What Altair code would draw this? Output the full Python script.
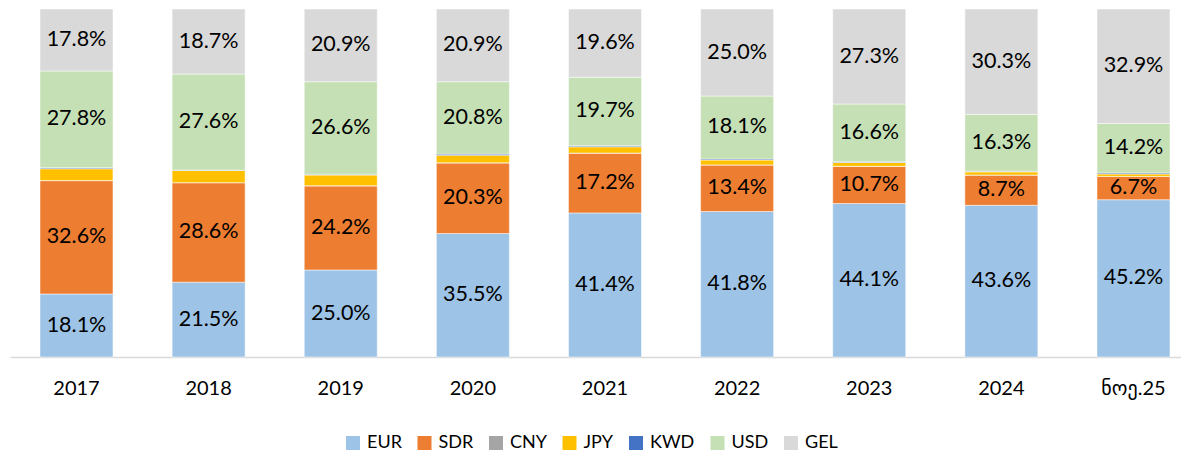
import altair as alt
import pandas as pd

categories = ["2017", "2018", "2019", "2020", "2021", "2022", "2023", "2024", "ნოე.25"]
series = ["EUR", "SDR", "CNY", "JPY", "KWD", "USD", "GEL"]
colors = ["#9DC3E6", "#ED7D31", "#A5A5A5", "#FFC000", "#4472C4", "#C5E0B4", "#D9D9D9"]

EUR = [18.1, 21.5, 25.0, 35.5, 41.4, 41.8, 44.1, 43.6, 45.2]
SDR = [32.6, 28.6, 24.2, 20.3, 17.2, 13.4, 10.7, 8.7, 6.7]
CNY = [0.0, 0.0, 0.0, 0.0, 0.0, 0.0, 0.0, 0.0, 0.0]
JPY = [3.4, 3.5, 3.1, 2.2, 1.8, 1.4, 1.1, 0.9, 0.7]
KWD = [0.3, 0.1, 0.2, 0.3, 0.3, 0.3, 0.2, 0.2, 0.3]
USD = [27.8, 27.6, 26.6, 20.8, 19.7, 18.1, 16.6, 16.3, 14.2]
GEL = [17.8, 18.7, 20.9, 20.9, 19.6, 25.0, 27.3, 30.3, 32.9]
labelled = ["EUR", "SDR", "USD", "GEL"]

values = {"EUR": EUR, "SDR": SDR, "CNY": CNY, "JPY": JPY, "KWD": KWD, "USD": USD, "GEL": GEL}
rows = []
for si, s in enumerate(series):
    for ci, c in enumerate(categories):
        rows.append({"cat": c, "series": s, "ord": si, "value": values[s][ci],
                     "show": s in labelled})
df = pd.DataFrame(rows)

FONT = "Lato, DejaVu Sans, sans-serif"

base = alt.Chart(df).transform_stack(
    stack="value", groupby=["cat"], sort=[alt.SortField("ord", order="ascending")], as_=["y0", "y1"]
).transform_calculate(
    mid="(datum.y0 + datum.y1) / 2",
    label="format(datum.value, '.1f') + '%'"
)

xscale = alt.Scale(paddingInner=0.4475, paddingOuter=0.1552, align=0.7315, round=False)
xenc = alt.X("cat:N", sort=categories, title=None, scale=xscale,
             axis=alt.Axis(labelAngle=0, ticks=False, domainColor="#D9D9D9", domainWidth=1.5,
                           labelFont=FONT, labelFontSize=20, labelColor="#000000",
                           labelPadding=21, grid=False))
yscale = alt.Scale(domain=[0, 100], nice=False, zero=True)

bars = base.mark_bar(stroke="white", strokeWidth=0.5).encode(
    x=xenc,
    y=alt.Y("y0:Q", scale=yscale, axis=None),
    y2="y1:Q",
    color=alt.Color("series:N", scale=alt.Scale(domain=series, range=colors),
                    legend=alt.Legend(title=None, orient="none", direction="horizontal",
                                      legendX=334, legendY=425, symbolType="square",
                                      symbolSize=196, symbolStrokeWidth=0, symbolOpacity=1,
                                      labelFont=FONT, labelFontSize=18, labelColor="#000000",
                                      labelOffset=5, columnPadding=13.5, padding=0)),
)

texts = base.transform_filter("datum.show").mark_text(
    font=FONT, fontSize=21.5, color="#000000", baseline="middle", align="center"
).encode(
    x=alt.X("cat:N", sort=categories, scale=xscale),
    y=alt.Y("mid:Q", scale=yscale),
    text="label:N",
)

chart = alt.layer(bars, texts).properties(
    width=1171, height=348,
    padding={"left": 2, "top": 0, "right": 0, "bottom": 0},
).configure_view(stroke=None)

chart.save("out.html", embed_options={"renderer": "svg", "actions": False})
